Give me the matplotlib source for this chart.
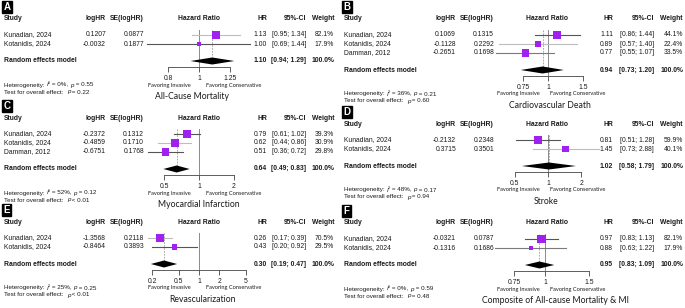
import numpy as np
import matplotlib
matplotlib.use("Agg")
import matplotlib.pyplot as plt
from matplotlib.text import Annotation
from matplotlib.ticker import NullLocator

W, H = 685, 308
plt.rcParams["font.family"] = ["Liberation Sans", "DejaVu Sans"]

PURPLE = "#A020F0"
FS = 4.9

# ---- data ----
two_studies = ["Kunadian, 2024", "Kotanidis, 2024"]
three_studies = ["Kunadian, 2024", "Kotanidis, 2024", "Damman, 2012"]

# A: all-cause mortality
a_loghr = [0.1207, -0.0032]
a_se = [0.0877, 0.1877]
a_hr = [1.13, 1.00]
a_lo = [0.95, 0.69]
a_hi = [1.34, 1.44]
a_wt = [82.1, 17.9]
a_pool = [1.10, 0.94, 1.29]
a_ticks = [0.8, 1, 1.25]

# B: cardiovascular death
b_loghr = [0.1069, -0.1128, -0.2651]
b_se = [0.1315, 0.2292, 0.1698]
b_hr = [1.11, 0.89, 0.77]
b_lo = [0.86, 0.57, 0.55]
b_hi = [1.44, 1.40, 1.07]
b_wt = [44.1, 22.4, 33.5]
b_pool = [0.94, 0.73, 1.20]
b_ticks = [0.75, 1, 1.5]

# C: myocardial infarction
c_loghr = [-0.2372, -0.4859, -0.6751]
c_se = [0.1312, 0.1710, 0.1768]
c_hr = [0.79, 0.62, 0.51]
c_lo = [0.61, 0.44, 0.36]
c_hi = [1.02, 0.86, 0.72]
c_wt = [39.3, 30.9, 29.8]
c_pool = [0.64, 0.49, 0.83]
c_ticks = [0.5, 1, 2]

# D: stroke
d_loghr = [-0.2132, 0.3715]
d_se = [0.2348, 0.3501]
d_hr = [0.81, 1.45]
d_lo = [0.51, 0.73]
d_hi = [1.28, 2.88]
d_wt = [59.9, 40.1]
d_pool = [1.02, 0.58, 1.79]
d_ticks = [0.5, 1, 2]

# E: revascularization
e_loghr = [-1.3568, -0.8464]
e_se = [0.2118, 0.3893]
e_hr = [0.26, 0.43]
e_lo = [0.17, 0.20]
e_hi = [0.39, 0.92]
e_wt = [70.5, 29.5]
e_pool = [0.30, 0.19, 0.47]
e_ticks = [0.2, 0.5, 1, 2, 5]

# F: composite of all-cause mortality & MI
f_loghr = [-0.0321, -0.1316]
f_se = [0.0787, 0.1686]
f_hr = [0.97, 0.88]
f_lo = [0.83, 0.63]
f_hi = [1.13, 1.22]
f_wt = [82.1, 17.9]
f_pool = [0.95, 0.83, 1.09]
f_ticks = [0.75, 1, 1.5]

het_i2 = ["0%", "36%", "52%", "48%", "25%", "0%"]
het_p = ["= 0.55", "= 0.21", "= 0.12", "= 0.17", "= 0.25", "= 0.59"]
test_p = ["= 0.22", "= 0.60", "< 0.01", "= 0.94", "< 0.01", "= 0.48"]
titles = ["All-Cause Mortality", "Cardiovascular Death", "Myocardial Infarction",
          "Stroke", "Revascularization", "Composite of All-cause Mortality & MI"]

# column layout (pixels, relative to column origin)
COLS = {
    "L": dict(ox=0, study=4, logHR=106, se=144, hrat=199, hr=267, ci=306, wt=334,
              fx0=140, fx1=258, inv=169, cons=234),
    "R": dict(ox=340, study=4, logHR=116, se=154, hrat=207, hr=273, ci=314, wt=343,
              fx0=150, fx1=268, inv=178, cons=238),
}

fig = plt.figure(figsize=(W / 100, H / 100), dpi=100)


def txt(x, y, s, ha="left", bold=False, size=FS, family=None, color="#1a1a1a"):
    kw = {}
    if family:
        kw["family"] = family
    return fig.text(x / W, 1 - y / H, s, ha=ha, va="center", fontsize=size,
                    fontweight="bold" if bold else "normal", color=color, **kw)


def rich(x, y, parts, size):
    # chain text pieces so single letters can be italic
    prev = fig.text(x / W, 1 - y / H, parts[0][0], ha="left", va="center",
                    fontsize=size, fontstyle=parts[0][1], color="#1a1a1a")
    for s, st in parts[1:]:
        a = Annotation(s, xy=(1, 0.5), xycoords=prev, ha="left", va="center",
                       fontsize=size, fontstyle=st, color="#1a1a1a")
        fig.add_artist(a)
        prev = a


def panel(idx, letter, col, t, study, loghr, se, hr, lo, hi, wt, pool, ticks,
          x_one, scale, shades, title_x):
    c = COLS[col]
    ox = c["ox"]
    header = t + 17
    rows = [header + 16 + 9 * i for i in range(len(study))]
    re_y = rows[-1] + 17
    axis_y = re_y + 6

    # panel letter
    fig.text((ox + 3.5) / W, 1 - (t + 5) / H, letter, color="white", fontsize=7,
             fontweight="bold", ha="left", va="center",
             bbox=dict(facecolor="black", edgecolor="black", boxstyle="square,pad=0.15"))

    # header
    txt(ox + c["study"], header, "Study", bold=True)
    txt(ox + c["logHR"], header, "logHR", ha="right", bold=True)
    txt(ox + c["se"], header, "SE(logHR)", ha="right", bold=True)
    txt(ox + c["hrat"], header, "Hazard Ratio", ha="center", bold=True)
    txt(ox + c["hr"], header, "HR", ha="right", bold=True)
    txt(ox + c["ci"], header, "95%-CI", ha="right", bold=True)
    txt(ox + c["wt"], header, "Weight", ha="right", bold=True)

    for i, y in enumerate(rows):
        txt(ox + c["study"], y, study[i])
        txt(ox + c["logHR"], y, f"{loghr[i]:.4f}", ha="right")
        txt(ox + c["se"], y, f"{se[i]:.4f}", ha="right")
        txt(ox + c["hr"], y, f"{hr[i]:.2f}", ha="right")
        txt(ox + c["ci"], y, f"[{lo[i]:.2f}; {hi[i]:.2f}]", ha="right")
        txt(ox + c["wt"], y, f"{wt[i]:.1f}%", ha="right")

    txt(ox + c["study"], re_y, "Random effects model", bold=True)
    txt(ox + c["hr"], re_y, f"{pool[0]:.2f}", ha="right", bold=True)
    txt(ox + c["ci"], re_y, f"[{pool[1]:.2f}; {pool[2]:.2f}]", ha="right", bold=True)
    txt(ox + c["wt"], re_y, "100.0%", ha="right", bold=True)

    het_y = axis_y + 18
    rich(ox + c["study"], het_y,
         [("Heterogeneity: ", "normal"), ("I", "italic"), (f"\u00b2 = {het_i2[idx]}, ", "normal"),
          ("p", "italic"), (f" {het_p[idx]}", "normal")], 4.5)
    rich(ox + c["study"], het_y + 7,
         [("Test for overall effect:  ", "normal"), ("p", "italic"), (f" {test_p[idx]}", "normal")], 4.5)
    txt(ox + c["inv"], het_y, "Favoring Invasive", ha="center", size=4.1, family="Lato")
    txt(ox + c["cons"], het_y, "Favoring Conservative", ha="center", size=4.1, family="Lato")
    txt(title_x, het_y + 11.5, titles[idx], ha="center", size=6.2, family="Lato")

    # forest area
    fx0, fx1 = ox + c["fx0"], ox + c["fx1"]
    top_y = rows[0] - 5
    ax = fig.add_axes([fx0 / W, 1 - axis_y / H, (fx1 - fx0) / W, (axis_y - top_y) / H])
    ax.set_xscale("log")
    ax.set_xlim(np.exp((fx0 - x_one) / scale), np.exp((fx1 - x_one) / scale))
    ax.set_ylim(axis_y, top_y)
    ax.patch.set_alpha(0)
    for sp in ["top", "right", "left"]:
        ax.spines[sp].set_visible(False)
    ax.spines["bottom"].set_bounds(ticks[0], ticks[-1])
    ax.spines["bottom"].set_linewidth(0.6)
    ax.spines["bottom"].set_color("#444444")
    ax.set_xticks(ticks)
    ax.set_xticklabels([f"{v:g}" for v in ticks])
    ax.xaxis.set_minor_locator(NullLocator())
    ax.tick_params(axis="x", direction="out", length=3.5, width=0.6, color="#444444",
                   labelsize=FS, pad=2.5, labelcolor="#1a1a1a")
    ax.set_yticks([])

    ax.axvline(1, color="#8a8a8a", lw=0.7, zorder=1)
    ax.plot([pool[0], pool[0]], [top_y, re_y - 3.5], color="#9a9a9a", lw=0.6,
            ls=(0, (2, 1.5)), zorder=1)
    for i, y in enumerate(rows):
        ax.plot([lo[i], hi[i]], [y, y], color=shades[i], lw=0.8, zorder=2, clip_on=False)
    side = 8.5 * np.sqrt(np.array(wt) / max(wt)) * 0.72
    ax.scatter(hr, rows, s=side ** 2, marker="s", color=PURPLE, lw=0, zorder=3, clip_on=False)
    ax.scatter(hr, rows, s=0.5, marker="s", color="black", lw=0, zorder=4, clip_on=False)
    ax.fill([pool[1], pool[0], pool[2], pool[0]], [re_y, re_y - 3.5, re_y, re_y + 3.5],
            color="black", lw=0, zorder=3, clip_on=False)


DARK, LIGHT, MID = "#555555", "#bdbdbd", "#7a7a7a"
panel(0, "A", "L", 2, two_studies, a_loghr, a_se, a_hr, a_lo, a_hi, a_wt, a_pool, a_ticks,
      199, 139, [LIGHT, DARK], 192)
panel(1, "B", "R", 2, three_studies, b_loghr, b_se, b_hr, b_lo, b_hi, b_wt, b_pool, b_ticks,
      548, 87, [DARK, LIGHT, MID], 550)
panel(2, "C", "L", 101, three_studies, c_loghr, c_se, c_hr, c_lo, c_hi, c_wt, c_pool, c_ticks,
      199, 50, [DARK, LIGHT, DARK], 199)
panel(3, "D", "R", 107, two_studies, d_loghr, d_se, d_hr, d_lo, d_hi, d_wt, d_pool, d_ticks,
      548, 48, [DARK, LIGHT], 546)
panel(4, "E", "L", 205, two_studies, e_loghr, e_se, e_hr, e_lo, e_hi, e_wt, e_pool, e_ticks,
      199, 29, [LIGHT, DARK], 203)
panel(5, "F", "R", 206, two_studies, f_loghr, f_se, f_hr, f_lo, f_hi, f_wt, f_pool, f_ticks,
      545, 108, [DARK, MID], 556)

fig.savefig("out.png", dpi=100)
